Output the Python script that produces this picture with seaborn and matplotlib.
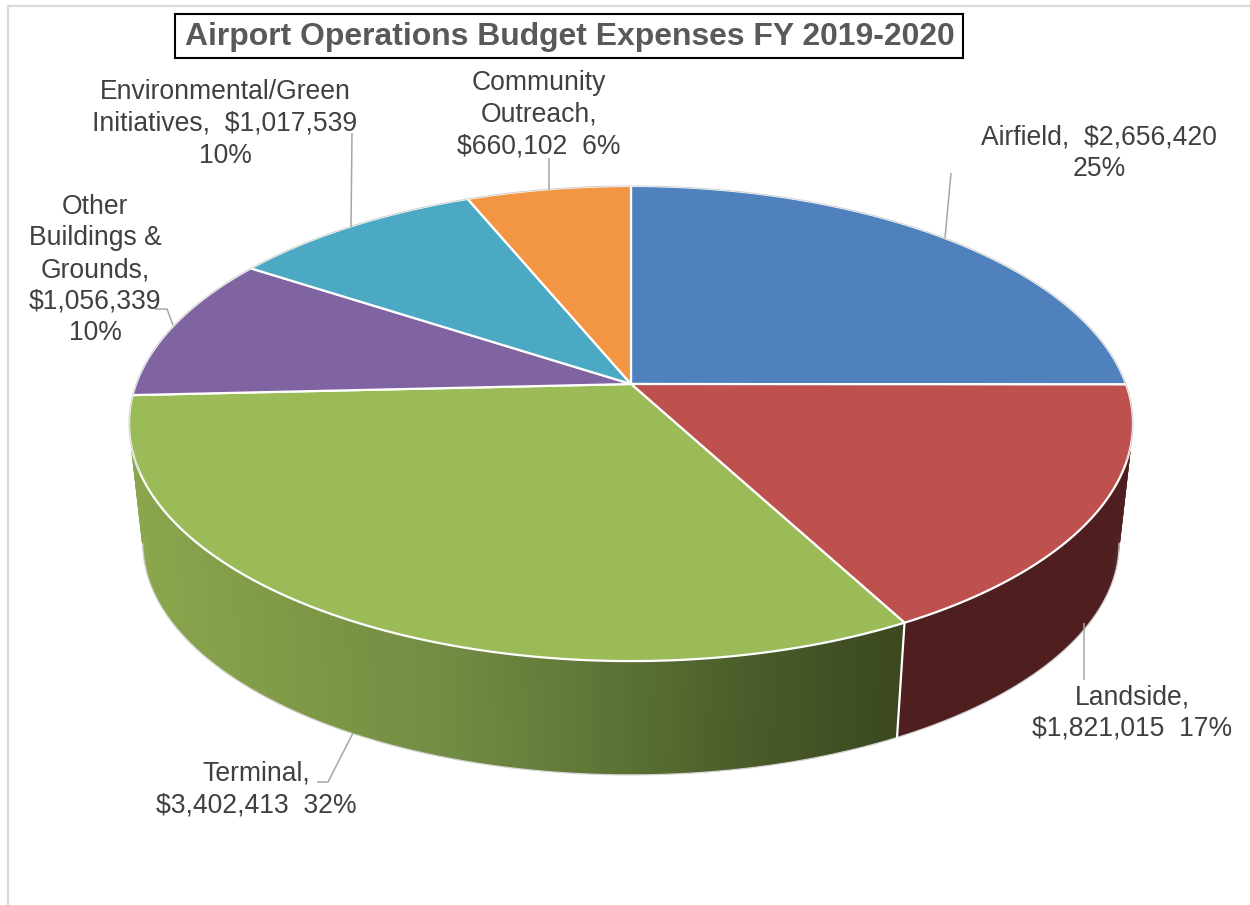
import numpy as np
import matplotlib
matplotlib.use("Agg")
import matplotlib.pyplot as plt
import seaborn as sns

# ---- data ----
categories = ["Airfield", "Landside", "Terminal", "Other Buildings & Grounds",
              "Environmental/Green Initiatives", "Community Outreach"]
expenses = [2656420, 1821015, 3402413, 1056339, 1017539, 660102]
percent_labels = ["25%", "17%", "32%", "10%", "10%", "6%"]
label_texts = [
    "Airfield,  $2,656,420\n25%",
    "Landside,\n$1,821,015  17%",
    "Terminal,\n$3,402,413  32%",
    "Other\nBuildings &\nGrounds,\n$1,056,339\n10%",
    "Environmental/Green\nInitiatives,  $1,017,539\n10%",
    "Community\nOutreach,\n$660,102  6%",
]
title = "Airport Operations Budget Expenses FY 2019-2020"

# ---- style ----
sns.set_theme(style="white")
plt.rcParams["font.family"] = ["Liberation Sans", "DejaVu Sans"]
top_colors = sns.color_palette(["#4F81BD", "#BE504D", "#9BBB59", "#8064A2", "#4BA9C4", "#F39644"])
terminal_ramp = sns.blend_palette(["#8AA64C", "#7F9948", "#728C43", "#5F7537", "#4A5C29", "#3B4820"], 256)
landside_side = "#4E1F1E"

# ---- layout (pixel canvas) ----
CX, CY = 631, 384
A, B, K = 495, 231, 0.1663
A2, B2, Y2 = 481.4, 225, 505
label_xy = [(1099, 153), (1132, 713), (256, 789.5), (95, 270), (225, 124), (539, 114.5)]
leaders = [
    [(951, 173), (945, 238)],
    [(1084, 623), (1084, 680)],
    [(353, 733), (328, 782), (317, 782)],
    [(155, 309), (167, 309), (173, 325)],
    [(352, 133), (351, 227)],
    [(549, 158), (549, 190)],
]


def top_pt(theta):
    u, v = np.sin(theta), np.cos(theta)
    w = 1 + K * v
    return CX + A * u / w, CY - B * v / w


def bottom_pt(theta):
    u, v = np.sin(theta), np.cos(theta)
    w = 1 + K * v
    return CX + A2 * u / w, Y2 - B2 * v / w


values = np.array(expenses, dtype=float)
edges = np.concatenate([[0], np.cumsum(values)]) / values.sum() * 2 * np.pi

fig = plt.figure(figsize=(12.5, 9.05), dpi=100, facecolor="white")
ax = fig.add_axes([0, 0, 1, 1])
ax.set_xlim(0, 1250)
ax.set_ylim(905, 0)
ax.axis("off")

# chart frame
ax.plot([7.5, 7.5, 1250], [905, 6.5, 6.5], color="#D9D9D9", lw=1.6, zorder=1)

# side walls, as overlapping strips per small angle step
ld0, ld1 = edges[1], edges[2]
te0, te1 = edges[2], edges[3]
for a0, a1, is_land in [(ld0, ld1, True), (te0, te1, False)]:
    n = int(np.degrees(a1 - a0) * 2)
    ts = np.linspace(a0, a1, n + 1)
    for j in range(n):
        t0, t1 = ts[j], ts[min(j + 2, n)]
        x0, y0 = top_pt(t0)
        x1, y1 = top_pt(t1)
        x2, y2 = bottom_pt(t1)
        x3, y3 = bottom_pt(t0)
        if is_land:
            c = landside_side
        else:
            f = np.clip(((x0 + x1) / 2 - 135) / (900 - 135), 0, 1)
            c = terminal_ramp[int(f * 255)]
        ax.fill([x0, x1, x2, x3], [y0, y1, y2, y3], color=c, lw=0, zorder=2)

# pale outline of the lower edge, up to where the wall silhouette begins
tb = np.linspace(ld0, te1, 1000)
bx, by = bottom_pt(tb)
i_r, i_l = np.argmax(bx), np.argmin(bx)
ax.plot(bx[i_r:i_l + 1], by[i_r:i_l + 1], color="#D4D4D4", lw=0.9, zorder=3)

# seam between the two walls
sx = [top_pt(ld1)[0], bottom_pt(ld1)[0]]
sy = [top_pt(ld1)[1], bottom_pt(ld1)[1]]
ax.plot(sx, sy, color="white", lw=1.6, zorder=3)

# top faces
for i, col in enumerate(top_colors):
    ts = np.linspace(edges[i], edges[i + 1], 300)
    x, y = top_pt(ts)
    ax.fill(np.r_[CX, x], np.r_[CY, y], facecolor=col, edgecolor="white", lw=1.6,
            joinstyle="round", zorder=4)

# faint outer rim on the far half
tr = np.linspace(edges[3] - 0.32, 2 * np.pi + edges[1] + 0.32, 800)
rx, ry = top_pt(tr)
ax.plot(rx, ry, color="#D0D0D0", lw=0.7, zorder=5)

# leader lines
for pts in leaders:
    xs, ys = zip(*pts)
    ax.plot(xs, ys, color="#A6A6A6", lw=1.1, zorder=6, solid_capstyle="butt")

# data labels
for txt, (x, y) in zip(label_texts, label_xy):
    ax.text(x, y, txt, ha="center", va="center", fontsize=19.1, color="#404040",
            linespacing=1.28, zorder=7)

# title in its box
ax.text(569.5, 36.5, title, ha="center", va="center", fontsize=22.95, fontweight="bold",
        color="#595959", zorder=8)
ax.fill([174.5, 963, 963, 174.5], [14, 14, 58, 58], facecolor="none",
        edgecolor="black", lw=1.5, zorder=7)
ax.plot([175, 964], [13, 13], color="#BFBFBF", lw=0.8, zorder=6)

fig.savefig("out.png", dpi=100, facecolor="white")
